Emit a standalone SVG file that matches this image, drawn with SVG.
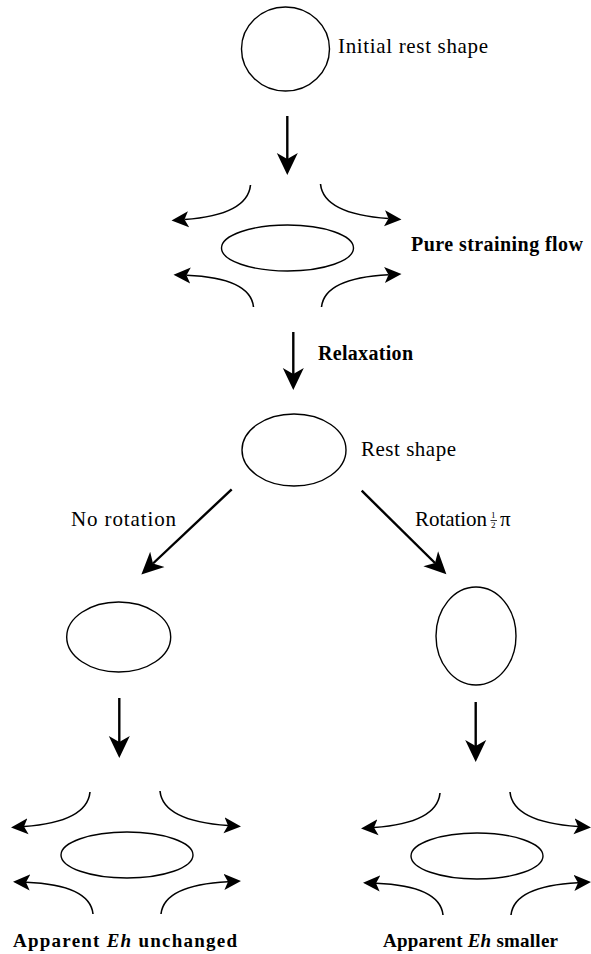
<svg xmlns="http://www.w3.org/2000/svg" xmlns:xlink="http://www.w3.org/1999/xlink" width="591" height="954" viewBox="0 0 591 954">
<style>
.shape{fill:none;stroke:#000;stroke-width:1.4}
.shaft{fill:none;stroke:#000;stroke-width:2.4}
.flow{fill:none;stroke:#000;stroke-width:1.6}
.t{font-family:"Liberation Serif","Times New Roman",serif;font-size:21px;fill:#000}
.b{font-weight:bold;font-size:20px}
.bb{font-size:19px}
</style>
<defs>
<marker id="head" viewBox="0 -12 23 24" refX="6" refY="0" markerWidth="23" markerHeight="24" markerUnits="userSpaceOnUse" orient="auto">
<path d="M22,0 L0,-10.5 L6,0 L0,10.5 Z" fill="#000"/>
</marker>
<marker id="fhead" viewBox="0 -9 18 18" refX="4" refY="0" markerWidth="18" markerHeight="18" markerUnits="userSpaceOnUse" orient="auto">
<path d="M17,0 L0,-8 L4,0 L0,8 Z" fill="#000"/>
</marker>
<g id="flow">
<ellipse class="shape" cx="0" cy="0" rx="66" ry="23"/>
<path class="flow" d="M-37,-63 Q-40,-33 -103,-28.5" marker-end="url(#fhead)"/>
<path class="flow" d="M33,-64 Q36,-34 101,-29.5" marker-end="url(#fhead)"/>
<path class="flow" d="M-34,59 Q-37,30 -101,27.3" marker-end="url(#fhead)"/>
<path class="flow" d="M34,59 Q37,30 101,26.7" marker-end="url(#fhead)"/>
</g>
</defs>

<g id="initial">
<ellipse class="shape" cx="285.5" cy="49" rx="44" ry="42"/>
<text class="t" x="338" y="53" textLength="150" lengthAdjust="spacing">Initial rest shape</text>
</g>

<g id="straining">
<use xlink:href="#flow" href="#flow" transform="translate(287.5,248)"/>
<text class="t b" x="411" y="251" textLength="172" lengthAdjust="spacing">Pure straining flow</text>
</g>

<g id="rest">
<ellipse class="shape" cx="294" cy="450" rx="52" ry="36"/>
<text class="t" x="361" y="456" textLength="95" lengthAdjust="spacing">Rest shape</text>
</g>

<g id="norot">
<ellipse class="shape" cx="118.7" cy="637" rx="52" ry="35"/>
</g>

<g id="rot">
<ellipse class="shape" cx="476" cy="636" rx="40" ry="49"/>
</g>

<g id="result-left">
<use xlink:href="#flow" href="#flow" transform="translate(127,855)"/>
<text class="t b bb" x="13" y="947" textLength="224" lengthAdjust="spacing">Apparent <tspan font-style="italic">Eh</tspan> unchanged</text>
</g>

<g id="result-right">
<use xlink:href="#flow" href="#flow" transform="translate(477,856)"/>
<text class="t b bb" x="383" y="947" textLength="175" lengthAdjust="spacing">Apparent <tspan font-style="italic">Eh</tspan> smaller</text>
</g>

<g id="connectors">
<line class="shaft" x1="287.3" y1="116" x2="287.3" y2="159" marker-end="url(#head)"/>
<line class="shaft" x1="293.3" y1="332" x2="293.3" y2="374" marker-end="url(#head)"/>
<text class="t b" x="318" y="360" textLength="95" lengthAdjust="spacing">Relaxation</text>
<line class="shaft" x1="231.7" y1="489.3" x2="153" y2="563.5" marker-end="url(#head)"/>
<text class="t" x="71" y="526" textLength="105" lengthAdjust="spacing">No rotation</text>
<line class="shaft" x1="361.7" y1="490.7" x2="435" y2="563" marker-end="url(#head)"/>
<text class="t" x="415" y="526" textLength="72" lengthAdjust="spacing">Rotation</text>
<text class="t" x="491" y="518" style="font-size:9px">1</text>
<line x1="490.5" y1="520.5" x2="497" y2="520.5" stroke="#000" stroke-width="0.8"/>
<text class="t" x="491" y="528" style="font-size:9px">2</text>
<text class="t" x="500" y="526">π</text>
<line class="shaft" x1="119.3" y1="698" x2="119.3" y2="742" marker-end="url(#head)"/>
<line class="shaft" x1="475.7" y1="702" x2="475.7" y2="746" marker-end="url(#head)"/>
</g>
</svg>
